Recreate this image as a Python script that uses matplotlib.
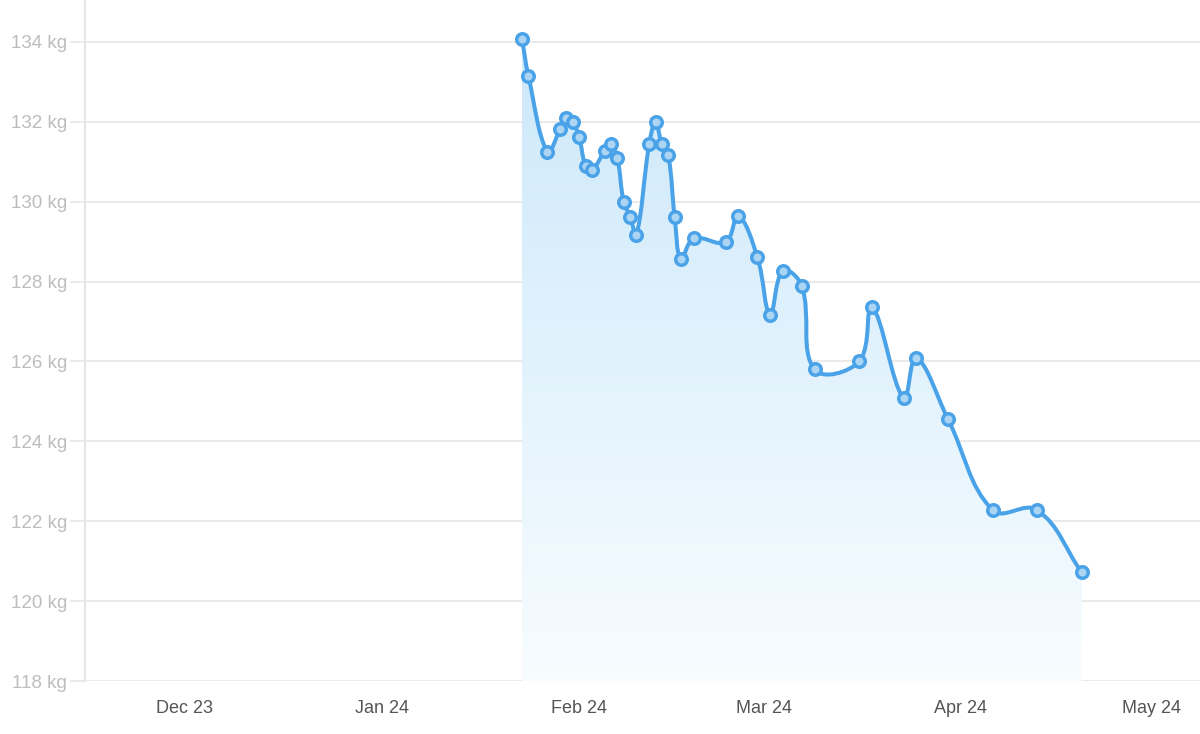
import numpy as np
import matplotlib.pyplot as plt
import matplotlib.dates as mdates
from matplotlib.path import Path
from matplotlib.patches import PathPatch

plt.rcParams['font.family'] = ['Liberation Sans', 'DejaVu Sans']

# weigh-ins
dates = ['2024-01-23', '2024-01-24', '2024-01-27', '2024-01-29', '2024-01-30',
         '2024-01-31', '2024-02-01', '2024-02-02', '2024-02-03', '2024-02-05',
         '2024-02-06', '2024-02-07', '2024-02-08', '2024-02-09', '2024-02-10',
         '2024-02-12', '2024-02-13', '2024-02-14', '2024-02-15', '2024-02-16',
         '2024-02-17', '2024-02-19', '2024-02-24', '2024-02-26', '2024-02-29',
         '2024-03-02', '2024-03-04', '2024-03-07', '2024-03-09', '2024-03-16',
         '2024-03-18', '2024-03-23', '2024-03-25', '2024-03-30', '2024-04-06',
         '2024-04-13', '2024-04-20']
weights = [134.08, 133.16, 131.25, 131.81, 132.09,
           132.0, 131.61, 130.90, 130.79, 131.27,
           131.45, 131.09, 129.99, 129.63, 129.17,
           131.44, 132.0, 131.44, 131.17, 129.63,
           128.56, 129.08, 128.99, 129.64, 128.62,
           127.17, 128.27, 127.89, 125.80, 126.0,
           127.37, 125.08, 126.09, 124.55, 122.28,
           122.28, 120.72]

month_ticks = ['2023-12-01', '2024-01-01', '2024-02-01', '2024-03-01',
               '2024-04-01', '2024-05-01']
y_ticks = [118, 120, 122, 124, 126, 128, 130, 132, 134]

x = mdates.datestr2num(dates)
y = np.array(weights)

line_col = '#4aa3e8'
grid_col = '#e6e6e6'

# bezier control points like a tension=0.4 spline (done in pixel-ish units)
sx, sy = 6.36, 39.94
px, py = x * sx, y * sy
t = 0.4
n = len(x)
cp_prev = np.zeros((n, 2))
cp_next = np.zeros((n, 2))
for i in range(n):
    a = max(i - 1, 0)
    b = min(i + 1, n - 1)
    d01 = np.hypot(px[i] - px[a], py[i] - py[a])
    d12 = np.hypot(px[b] - px[i], py[b] - py[i])
    tot = d01 + d12 if d01 + d12 > 0 else 1
    fa = t * d01 / tot
    fb = t * d12 / tot
    cp_prev[i] = (px[i] - fa * (px[b] - px[a]), py[i] - fa * (py[b] - py[a]))
    cp_next[i] = (px[i] + fb * (px[b] - px[a]), py[i] + fb * (py[b] - py[a]))
cp_prev /= (sx, sy)
cp_next /= (sx, sy)

verts = [(x[0], y[0])]
codes = [Path.MOVETO]
for i in range(1, n):
    verts += [tuple(cp_next[i - 1]), tuple(cp_prev[i]), (x[i], y[i])]
    codes += [Path.CURVE4] * 3
curve = Path(verts, codes)
fill_path = Path(verts + [(x[-1], 118), (x[0], 118), (x[0], y[0])],
                 codes + [Path.LINETO, Path.LINETO, Path.CLOSEPOLY])

fig = plt.figure(figsize=(12, 7.34), dpi=100)
ax = fig.add_axes([85 / 1200, 53 / 734, 1115 / 1200, 681 / 734])

x_left = mdates.datestr2num('2023-12-01') - 15.7
x_right = mdates.datestr2num('2023-12-01') + 159.6
ax.set_xlim(x_left, x_right)
ax.set_ylim(118, 134 + 42 / 39.94)

# gradient fill under the curve
grad = np.linspace(0, 1, 256).reshape(-1, 1)
top = np.array([0.80, 0.91, 0.98])
bot = np.array([0.97, 0.99, 1.0])
img = top * (1 - grad[..., None]) + bot * grad[..., None]
im = ax.imshow(img, extent=[x[0], x[-1], 118, 134.2], aspect='auto',
               origin='upper', zorder=1)
patch = PathPatch(fill_path, facecolor='none', edgecolor='none')
ax.add_patch(patch)
im.set_clip_path(patch)

ax.add_patch(PathPatch(curve, facecolor='none', edgecolor=line_col,
                       lw=2.9, zorder=3, capstyle='round', joinstyle='round'))
ax.plot(x, y, 'o', ms=8.3, mfc='#acd5f4', mec=line_col, mew=2.5, zorder=4)

ax.set_yticks(y_ticks)
ax.set_yticklabels([f'{v} kg' for v in y_ticks])
ax.set_xticks(mdates.datestr2num(month_ticks))
ax.xaxis.set_major_formatter(mdates.DateFormatter('%b %y'))

ax.grid(axis='y', color=grid_col, lw=1.2)
ax.set_axisbelow(True)
for s in ['top', 'right', 'bottom']:
    ax.spines[s].set_visible(False)
ax.spines['left'].set_color(grid_col)
ax.spines['left'].set_linewidth(1.5)

ax.tick_params(axis='y', length=11, width=1.2, color=grid_col, pad=2,
               labelsize=13.5, labelcolor='#bdbdbd')
ax.tick_params(axis='x', length=0, pad=14, labelsize=13, labelcolor='#555555')

fig.savefig('out.png', dpi=100)
